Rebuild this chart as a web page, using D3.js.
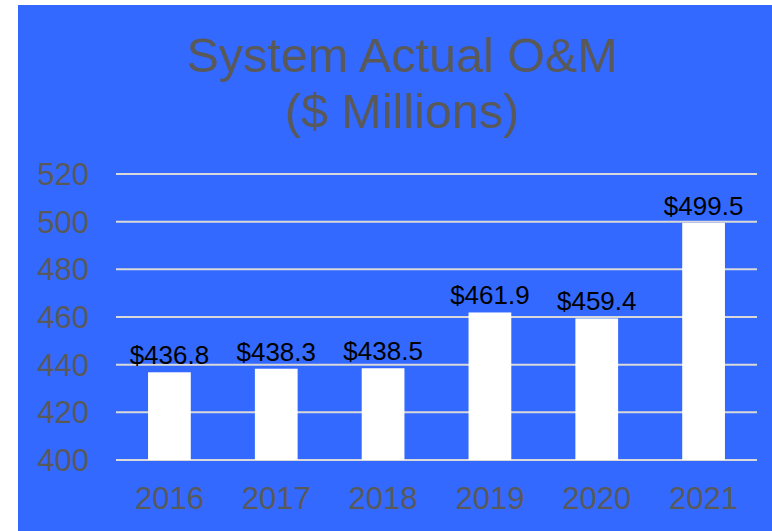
<!DOCTYPE html>
<html lang="en-US">
<head>
    <meta charset="UTF-8">
    <title>System Actual O&amp;M</title>
    <style>
    html, body {margin: 0; padding: 0; background: #fff;}
    svg {display: block; font-family: "Liberation Sans", Arial, sans-serif;}
    .grid line {stroke: #d9d9d9; stroke-width: 2px;}
    .tick-label {fill: #595959; font-size: 31px;}
    .title {fill: #595959; font-size: 48.5px;}
    .value {fill: #000; font-size: 26px;}
    </style>
</head>
<body>
<div id="chart"></div>
<script src="https://d3js.org/d3.v7.min.js"></script>
<script>

    var years = ["2016", "2017", "2018", "2019", "2020", "2021"];
    var values = [436.8, 438.3, 438.5, 461.9, 459.4, 499.5];
    var yTicks = [400, 420, 440, 460, 480, 500, 520];
    var titleLines = ["System Actual O&M", "($ Millions)"];

    var width = 772,
        height = 531;

    var svg = d3.select("#chart").append("svg")
        .attr("width", width)
        .attr("height", height);

    // blue panel
    svg.append("rect")
        .attr("x", 18)
        .attr("y", 5)
        .attr("width", width - 18)
        .attr("height", height - 5)
        .attr("fill", "#3369ff");

    var x = d3.scaleBand()
        .domain(years)
        .range([116, 757])
        .paddingInner(0.6)
        .paddingOuter(0.3);

    var y = d3.scaleLinear()
        .domain([400, 520])
        .range([460, 174]);

    // title
    svg.append("text")
        .attr("class", "title")
        .attr("text-anchor", "middle")
        .selectAll("tspan")
        .data(titleLines)
        .enter().append("tspan")
        .attr("x", 402)
        .attr("y", function (d, i) { return 72 + i * 56; })
        .text(function (d) { return d; });

    // gridlines
    svg.append("g")
        .attr("class", "grid")
        .selectAll("line")
        .data(yTicks)
        .enter().append("line")
        .attr("x1", 116)
        .attr("x2", 757)
        .attr("y1", function (d) { return y(d); })
        .attr("y2", function (d) { return y(d); });

    // y labels
    svg.append("g")
        .selectAll("text")
        .data(yTicks)
        .enter().append("text")
        .attr("class", "tick-label")
        .attr("text-anchor", "end")
        .attr("x", 89)
        .attr("y", function (d) { return y(d) + 11; })
        .text(function (d) { return d; });

    // bars
    svg.append("g")
        .selectAll("rect")
        .data(values)
        .enter().append("rect")
        .attr("fill", "#fff")
        .attr("x", function (d, i) { return x(years[i]); })
        .attr("width", x.bandwidth())
        .attr("y", function (d) { return y(d); })
        .attr("height", function (d) { return y(400) - y(d); });

    // value labels
    svg.append("g")
        .selectAll("text")
        .data(values)
        .enter().append("text")
        .attr("class", "value")
        .attr("text-anchor", "middle")
        .attr("x", function (d, i) { return x(years[i]) + x.bandwidth() / 2; })
        .attr("y", function (d) { return y(d) - 8; })
        .text(function (d) { return "$" + d.toFixed(1); });

    // x labels
    svg.append("g")
        .selectAll("text")
        .data(years)
        .enter().append("text")
        .attr("class", "tick-label")
        .attr("text-anchor", "middle")
        .attr("x", function (d) { return x(d) + x.bandwidth() / 2; })
        .attr("y", 509)
        .text(function (d) { return d; });

</script>
</body>
</html>
